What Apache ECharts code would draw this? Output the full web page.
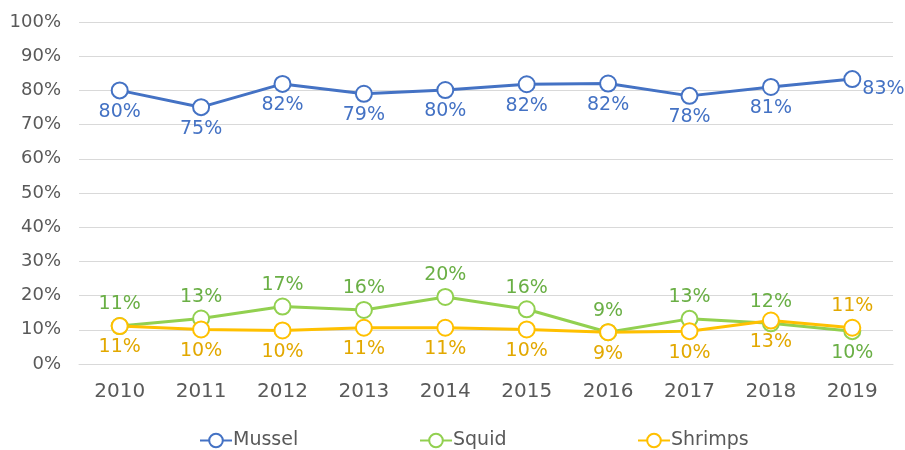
<!DOCTYPE html>
<html>
<head>
<meta charset="utf-8">
<script src="https://cdn.jsdelivr.net/npm/echarts@6/dist/echarts.min.js"></script>
<style>html,body{margin:0;padding:0;background:#fff;}#c{width:905px;height:450px;}</style>
</head>
<body>
<div id="c"></div>
<script>
var years = ['2010','2011','2012','2013','2014','2015','2016','2017','2018','2019'];
var mussel = [80, 75.1, 81.9, 79, 80.1, 81.8, 82, 78.4, 81, 83.3];
var squid = [11.1, 13.3, 16.8, 15.8, 19.6, 16, 9.3, 13.2, 11.9, 9.6];
var shrimps = [11.1, 10.1, 9.8, 10.6, 10.6, 10.1, 9.3, 9.6, 12.7, 10.6];
var yTicks = [0, 10, 20, 30, 40, 50, 60, 70, 80, 90, 100];

var FONT = 'DejaVu Sans';
var chart = echarts.init(document.getElementById('c'));

function build(name, values, color, labelColor, defaultPos, exceptions) {
  return {
    name: name,
    type: 'line',
    data: values.map(function (v, i) {
      var pos = exceptions[i] || defaultPos;
      var item = { value: v, label: { position: pos } };
      if (pos === 'right') item.label.offset = [-2, 10];
      return item;
    }),
    symbol: 'emptyCircle',
    symbolSize: 16,
    showAllSymbol: true,
    lineStyle: { width: 3, color: color },
    itemStyle: { color: color, borderColor: color, borderWidth: 1 },
    label: {
      show: true,
      color: labelColor,
      fontFamily: FONT,
      fontSize: 19,
      distance: 3,
      formatter: function (p) { return Math.round(p.value) + '%'; }
    },
    emphasis: { disabled: true }
  };
}

function legendAt(name, left) {
  return {
    data: [name],
    left: left,
    top: 426,
    itemWidth: 32,
    itemHeight: 17,
    itemGap: 0,
    textStyle: { color: '#595959', fontFamily: FONT, fontSize: 19, padding: [0, 0, 0, -4] }
  };
}

chart.setOption({
  animation: false,
  backgroundColor: '#fff',
  grid: { left: 79, right: 12, top: 22, bottom: 86, containLabel: false },
  legend: [legendAt('Mussel', 194), legendAt('Squid', 414), legendAt('Shrimps', 632)],
  xAxis: {
    type: 'category',
    data: years,
    boundaryGap: true,
    axisLine: { lineStyle: { color: '#d9d9d9', width: 1 } },
    axisTick: { show: false },
    axisLabel: { color: '#595959', fontFamily: FONT, fontSize: 20, margin: 18 }
  },
  yAxis: {
    type: 'value',
    min: yTicks[0],
    max: yTicks[yTicks.length - 1],
    interval: yTicks[1] - yTicks[0],
    axisLine: { show: false },
    axisTick: { show: false },
    splitLine: { lineStyle: { color: '#d9d9d9', width: 1 } },
    axisLabel: { color: '#595959', fontFamily: FONT, fontSize: 18, margin: 18, formatter: '{value}%' }
  },
  series: [
    build('Mussel', mussel, '#4472C4', '#4472C4', 'bottom', { 9: 'right' }),
    build('Squid', squid, '#92D050', '#6AAF45', 'top', { 9: 'bottom' }),
    build('Shrimps', shrimps, '#FFC000', '#E2A800', 'bottom', { 9: 'top' })
  ]
});
</script>
</body>
</html>
